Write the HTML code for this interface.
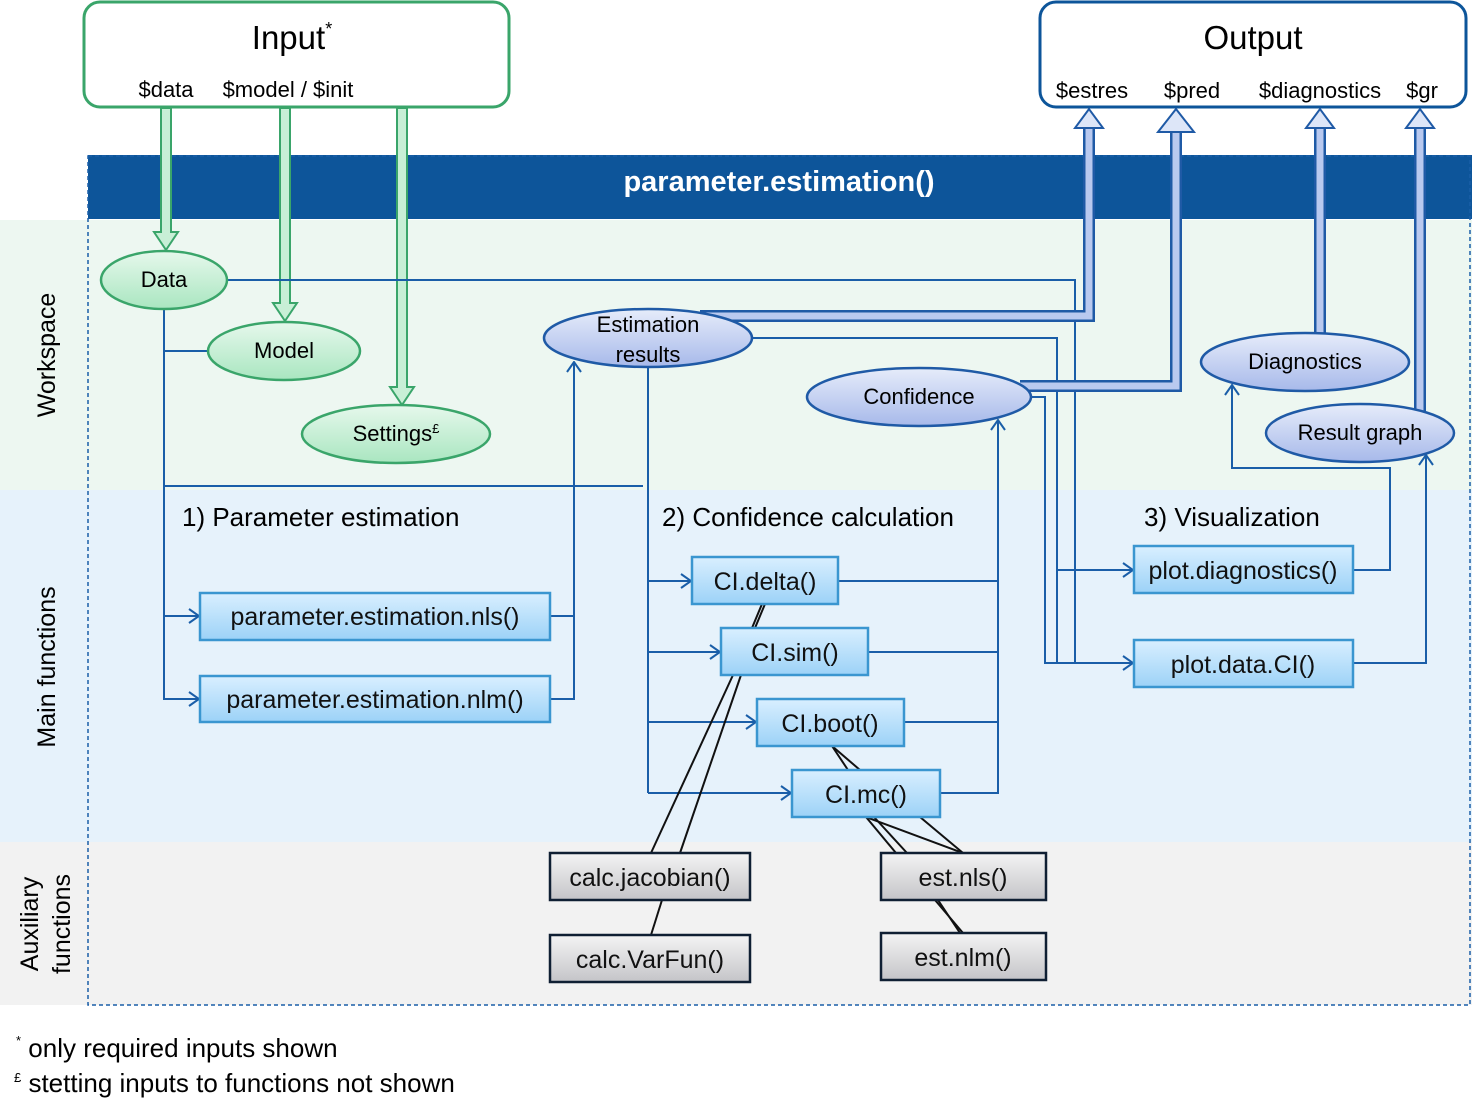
<!DOCTYPE html>
<html><head><meta charset="utf-8"><style>
body{margin:0;background:#fff}
svg{display:block;font-family:"Liberation Sans",sans-serif}
</style></head><body>
<svg width="1472" height="1117" viewBox="0 0 1472 1117" xmlns="http://www.w3.org/2000/svg">
<defs>
<linearGradient id="gg" x1="0" y1="0" x2="0" y2="1"><stop offset="0" stop-color="#e6f8ec"/><stop offset="1" stop-color="#a9e6c0"/></linearGradient>
<linearGradient id="bg" x1="0" y1="0" x2="0" y2="1"><stop offset="0" stop-color="#e6ecfa"/><stop offset="1" stop-color="#a7b9ea"/></linearGradient>
<linearGradient id="cb" x1="0" y1="0" x2="0" y2="1"><stop offset="0" stop-color="#d9efff"/><stop offset="1" stop-color="#9cd2f7"/></linearGradient>
<linearGradient id="gb" x1="0" y1="0" x2="0" y2="1"><stop offset="0" stop-color="#f4f4f4"/><stop offset="1" stop-color="#c4c4c8"/></linearGradient>
<marker id="ar" viewBox="0 0 12 16" refX="11" refY="8" markerWidth="12" markerHeight="16" markerUnits="userSpaceOnUse" orient="auto"><path d="M1,1 L11,8 L1,15" fill="none" stroke="#1a5ea8" stroke-width="2"/></marker>
</defs>
<rect x="0" y="220" width="1472" height="270" fill="#edf7f1"/>
<rect x="0" y="490" width="1472" height="352" fill="#e6f2fb"/>
<rect x="0" y="842" width="1472" height="163" fill="#f2f2f2"/>
<rect x="88" y="155" width="1384" height="64" fill="#0d559a"/>
<rect x="88" y="156" width="1382" height="849" fill="none" stroke="#1a5ea8" stroke-width="1.5" stroke-dasharray="4,3"/>
<text x="779" y="191" fill="#fff" font-size="29" font-weight="bold" text-anchor="middle">parameter.estimation()</text>
<text transform="translate(55,355) rotate(-90)" font-size="25" text-anchor="middle">Workspace</text>
<text transform="translate(55,667) rotate(-90)" font-size="25" text-anchor="middle">Main functions</text>
<text transform="translate(38,924) rotate(-90)" font-size="25" text-anchor="middle">Auxiliary</text>
<text transform="translate(70,924) rotate(-90)" font-size="25" text-anchor="middle">functions</text>

<rect x="84" y="2" width="425" height="105" rx="16" fill="#fff" stroke="#3aa56a" stroke-width="3"/>
<text x="292" y="49" font-size="33" text-anchor="middle">Input<tspan font-size="18" dy="-14">*</tspan></text>
<text x="166" y="97" font-size="22" text-anchor="middle">$data</text>
<text x="288" y="97" font-size="22" text-anchor="middle">$model / $init</text>
<rect x="1040" y="2" width="426" height="105" rx="16" fill="#fff" stroke="#0d559a" stroke-width="3"/>
<text x="1253" y="49" font-size="33" text-anchor="middle">Output</text>
<text x="1092" y="98" font-size="22" text-anchor="middle">$estres</text>
<text x="1192" y="98" font-size="22" text-anchor="middle">$pred</text>
<text x="1320" y="98" font-size="22" text-anchor="middle">$diagnostics</text>
<text x="1422" y="98" font-size="22" text-anchor="middle">$gr</text>

<g fill="#c8efd6" stroke="#3aa56a" stroke-width="2">
<polygon points="161,108 171,108 171,232 178,232 166,250 154,232 161,232"/>
<polygon points="280,108 290,108 290,303 297,303 285,321 273,303 280,303"/>
<polygon points="397,108 407,108 407,387 414,387 402,405 390,387 397,387"/>
</g>

<g fill="none" stroke="#1a5ea8" stroke-width="2">
<polyline points="164,309 164,700"/>
<polyline points="208,351 164,351"/>
<polyline points="164,486 643,486"/>
<line x1="164" y1="616" x2="199" y2="616" marker-end="url(#ar)"/>
<line x1="164" y1="699" x2="199" y2="699" marker-end="url(#ar)"/>
<polyline points="550,616 574,616"/>
<polyline points="550,699 574,699 574,362" marker-end="url(#ar)"/>
<polyline points="648,367 648,793"/>
<line x1="648" y1="581" x2="691" y2="581" marker-end="url(#ar)"/>
<line x1="648" y1="652" x2="720" y2="652" marker-end="url(#ar)"/>
<line x1="648" y1="722" x2="756" y2="722" marker-end="url(#ar)"/>
<line x1="648" y1="793" x2="791" y2="793" marker-end="url(#ar)"/>
<polyline points="838,581 998,581"/>
<polyline points="868,652 998,652"/>
<polyline points="904,722 998,722"/>
<polyline points="940,793 998,793 998,420" marker-end="url(#ar)"/>
<polyline points="228,280 1075,280 1075,663"/>
<polyline points="750,338 1057,338 1057,663"/>
<line x1="1057" y1="570" x2="1133" y2="570" marker-end="url(#ar)"/>
<polyline points="1030,397 1045,397 1045,663 1133,663" marker-end="url(#ar)"/>
<polyline points="1353,570 1390,570 1390,468 1232,468 1232,385" marker-end="url(#ar)"/>
<polyline points="1353,663 1426,663 1426,455" marker-end="url(#ar)"/>
</g>

<g fill="none" stroke-linejoin="miter">
<g stroke="#1f5aa6" stroke-width="12">
<polyline points="700,316 1089,316 1089,126"/>
<polyline points="1020,386 1176,386 1176,130"/>
<polyline points="1320,333 1320,126"/>
<polyline points="1420,412 1420,126"/>
</g>
<g stroke="#b9c9ef" stroke-width="7">
<polyline points="700,316 1089,316 1089,124"/>
<polyline points="1020,386 1176,386 1176,128"/>
<polyline points="1320,333 1320,124"/>
<polyline points="1420,412 1420,124"/>
</g>
</g>
<g fill="#dde6f8" stroke="#1f5aa6" stroke-width="2">
<polygon points="1083,128 1075,128 1089,109 1103,128 1095,128"/>
<polygon points="1170,132 1158,132 1176,109 1194,132 1182,132"/>
<polygon points="1314,128 1306,128 1320,109 1334,128 1326,128"/>
<polygon points="1414,128 1406,128 1420,109 1434,128 1426,128"/>
</g>

<g stroke="#111" stroke-width="2">
<line x1="765" y1="604" x2="755" y2="628"/><line x1="762" y1="604" x2="752" y2="628"/>
<line x1="733" y1="675" x2="651" y2="853"/><line x1="741" y1="675" x2="680" y2="853"/>
<line x1="662" y1="900" x2="651" y2="935"/>
<line x1="832" y1="746" x2="848" y2="770"/><line x1="832" y1="746" x2="860" y2="770"/>
<line x1="866" y1="817" x2="896" y2="853"/><line x1="874" y1="817" x2="907" y2="853"/>
<line x1="866" y1="817" x2="963" y2="853"/><line x1="920" y1="817" x2="963" y2="853"/>
<line x1="935" y1="900" x2="963" y2="933"/><line x1="938" y1="900" x2="960" y2="933"/>
</g>

<g stroke-width="2.5">
<ellipse cx="164" cy="280" rx="63" ry="29" fill="url(#gg)" stroke="#3aa56a"/>
<ellipse cx="284" cy="351" rx="76" ry="29" fill="url(#gg)" stroke="#3aa56a"/>
<ellipse cx="396" cy="434" rx="94" ry="29" fill="url(#gg)" stroke="#3aa56a"/>
<ellipse cx="648" cy="338" rx="104" ry="29" fill="url(#bg)" stroke="#1f5aa6"/>
<ellipse cx="919" cy="397" rx="112" ry="29" fill="url(#bg)" stroke="#1f5aa6"/>
<ellipse cx="1305" cy="362" rx="104" ry="29" fill="url(#bg)" stroke="#1f5aa6"/>
<ellipse cx="1360" cy="433" rx="94" ry="29" fill="url(#bg)" stroke="#1f5aa6"/>
</g>
<g font-size="22" text-anchor="middle">
<text x="164" y="287">Data</text>
<text x="284" y="358">Model</text>
<text x="396" y="441">Settings<tspan font-size="13" dy="-8">£</tspan></text>
<text x="648" y="332">Estimation</text>
<text x="648" y="362">results</text>
<text x="919" y="404">Confidence</text>
<text x="1305" y="369">Diagnostics</text>
<text x="1360" y="440">Result graph</text>
</g>

<g font-size="26">
<text x="182" y="526">1) Parameter estimation</text>
<text x="662" y="526">2) Confidence calculation</text>
<text x="1144" y="526">3) Visualization</text>
</g>

<g fill="url(#cb)" stroke="#3a96d0" stroke-width="2.5">
<rect x="200" y="593" width="350" height="47"/>
<rect x="200" y="676" width="350" height="46"/>
<rect x="692" y="557" width="146" height="47"/>
<rect x="721" y="628" width="147" height="47"/>
<rect x="757" y="699" width="147" height="47"/>
<rect x="792" y="770" width="148" height="47"/>
<rect x="1134" y="546" width="219" height="47"/>
<rect x="1134" y="640" width="219" height="47"/>
</g>
<g fill="url(#gb)" stroke="#0f1f33" stroke-width="2.5">
<rect x="550" y="853" width="200" height="47"/>
<rect x="550" y="935" width="200" height="47"/>
<rect x="881" y="853" width="165" height="47"/>
<rect x="881" y="933" width="165" height="47"/>
</g>
<g font-size="25" text-anchor="middle" fill="#111">
<text x="375" y="625">parameter.estimation.nls()</text>
<text x="375" y="708">parameter.estimation.nlm()</text>
<text x="765" y="590">CI.delta()</text>
<text x="795" y="661">CI.sim()</text>
<text x="830" y="732">CI.boot()</text>
<text x="866" y="803">CI.mc()</text>
<text x="1243" y="579">plot.diagnostics()</text>
<text x="1243" y="673">plot.data.CI()</text>
<text x="650" y="886">calc.jacobian()</text>
<text x="650" y="968">calc.VarFun()</text>
<text x="963" y="886">est.nls()</text>
<text x="963" y="966">est.nlm()</text>
</g>

<g font-size="26">
<text x="16" y="1057"><tspan font-size="13" dy="-12">*</tspan><tspan dy="12"> only required inputs shown</tspan></text>
<text x="14" y="1092"><tspan font-size="13" dy="-10">£</tspan><tspan dy="10"> stetting inputs to functions not shown</tspan></text>
</g>
</svg>
</body></html>
